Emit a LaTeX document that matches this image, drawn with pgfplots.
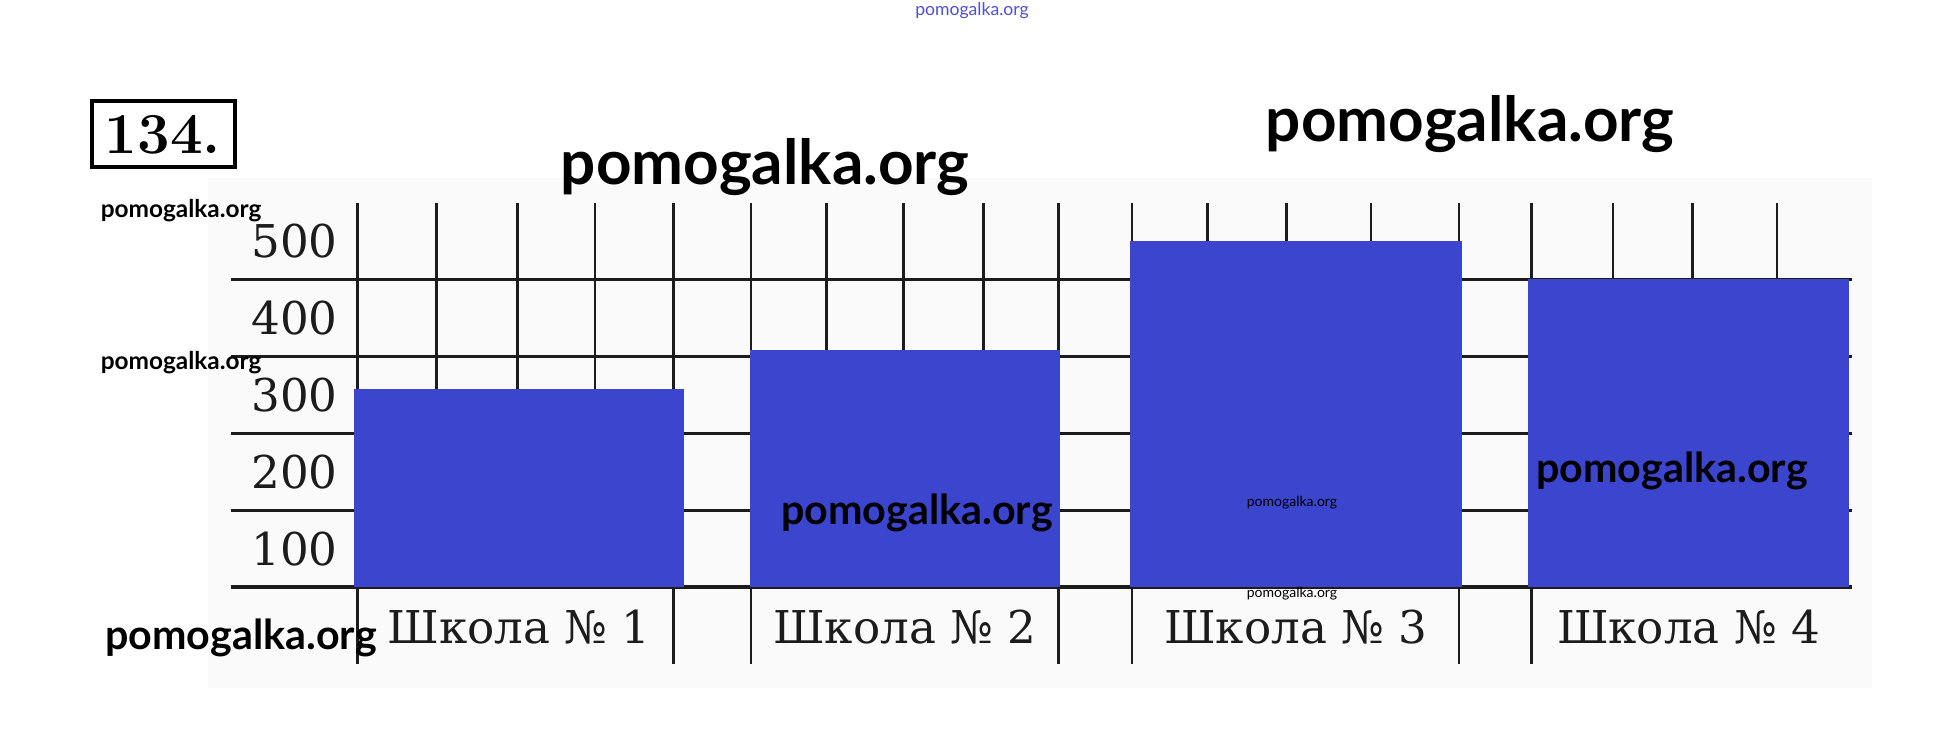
\documentclass[border=0pt]{standalone}
\usepackage{pgfplots}
\pgfplotsset{compat=1.18}
\usepackage{fontspec}
\newfontfamily\dvs{DejaVu Serif}
\newfontfamily\wm{Lato}
\definecolor{barblue}{RGB}{59,69,205}
\definecolor{gridc}{RGB}{28,28,28}
\definecolor{panel}{RGB}{250,250,250}
\definecolor{wmblue}{RGB}{80,80,210}
\begin{document}
\begin{tikzpicture}
\useasboundingbox (0,0) rectangle (485.5pt,188.25pt);
\begin{scope}[x=0.25pt,y=-0.25pt,yshift=188.25pt]
\fill[panel] (208,178) rectangle (1872,688);
\draw[line width=1.1pt] (92,101) rectangle (235,167);
\node[font=\bfseries\fontsize{14.5}{16}\selectfont, inner sep=0pt] at (163,135) {134.};
\end{scope}
\begin{axis}[
  at={(57.85pt,22.3pt)}, anchor=south west,
  scale only axis, width=405.1pt, height=115.2pt,
  xmin=-1.6, xmax=18.95, ymin=-100, ymax=500,
  axis line style={draw=none},
  major tick length=0pt,
  ytick={50,150,250,350,450},
  yticklabels={100,200,300,400,500},
  extra y ticks={0,100,200,300,400},
  extra y tick labels={},
  extra y tick style={grid=major},
  major grid style={gridc, line width=0.8pt},
  xtick={2.05,6.94,11.90,16.88},
  xticklabels={Школа № 1, Школа № 2, Школа № 3, Школа № 4},
  ticklabel style={font=\dvs\fontsize{11.3}{13}\selectfont, text=gridc},
  yticklabel style={anchor=east, inner sep=0pt, xshift=26.75pt},
  xticklabel style={anchor=base, inner sep=0pt, yshift=5pt},
  /pgf/number format/assume math mode=true,
  clip=false,
]
\addplot[ycomb, gridc, line width=0.65pt, mark=none] coordinates {
  (0,500) (1.00,500) (2.03,500) (3.01,500) (4.01,500) (4.99,500)
  (5.95,500) (6.92,500) (7.94,500) (8.89,500) (9.82,500) (10.78,500)
  (11.78,500) (12.85,500) (13.97,500) (14.89,500) (15.92,500) (16.93,500) (18.00,500)};
\addplot[ycomb, gridc, line width=0.65pt, mark=none] coordinates {
  (0,-100) (4.01,-100) (4.99,-100) (8.89,-100) (9.82,-100) (13.97,-100) (14.89,-100)};
\addplot[ybar, bar width=4.18, bar shift=0pt, fill=barblue, draw=none] coordinates {(2.045,258)};
\addplot[ybar, bar width=3.93, bar shift=0pt, fill=barblue, draw=none] coordinates {(6.945,309)};
\addplot[ybar, bar width=4.22, bar shift=0pt, fill=barblue, draw=none] coordinates {(11.90,450)};
\addplot[ybar, bar width=4.07, bar shift=0pt, fill=barblue, draw=none] coordinates {(16.88,401)};
\end{axis}
\begin{scope}[x=0.25pt,y=-0.25pt,yshift=188.25pt]
\node[font=\wm\fontsize{4.4}{5}\selectfont, text=wmblue] at (972,11) {pomogalka.org};
\node[font=\wm\bfseries\fontsize{15.5}{17}\selectfont] at (765,167) {pomogalka.org};
\node[font=\wm\bfseries\fontsize{15.5}{17}\selectfont] at (1470,124) {pomogalka.org};
\node[font=\wm\bfseries\fontsize{6.1}{7}\selectfont, anchor=west, inner sep=0pt] at (100,211) {pomogalka.org};
\node[font=\wm\bfseries\fontsize{6.1}{7}\selectfont, anchor=west, inner sep=0pt] at (100,363) {pomogalka.org};
\node[font=\wm\bfseries\fontsize{10.3}{12}\selectfont] at (241,638) {pomogalka.org};
\node[font=\wm\bfseries\fontsize{10.3}{12}\selectfont] at (917,513) {pomogalka.org};
\node[font=\wm\bfseries\fontsize{10.3}{12}\selectfont] at (1672,471) {pomogalka.org};
\node[font=\wm\fontsize{3.5}{4}\selectfont] at (1292,503) {pomogalka.org};
\node[font=\wm\fontsize{3.5}{4}\selectfont] at (1292,594) {pomogalka.org};
\end{scope}
\end{tikzpicture}
\end{document}
